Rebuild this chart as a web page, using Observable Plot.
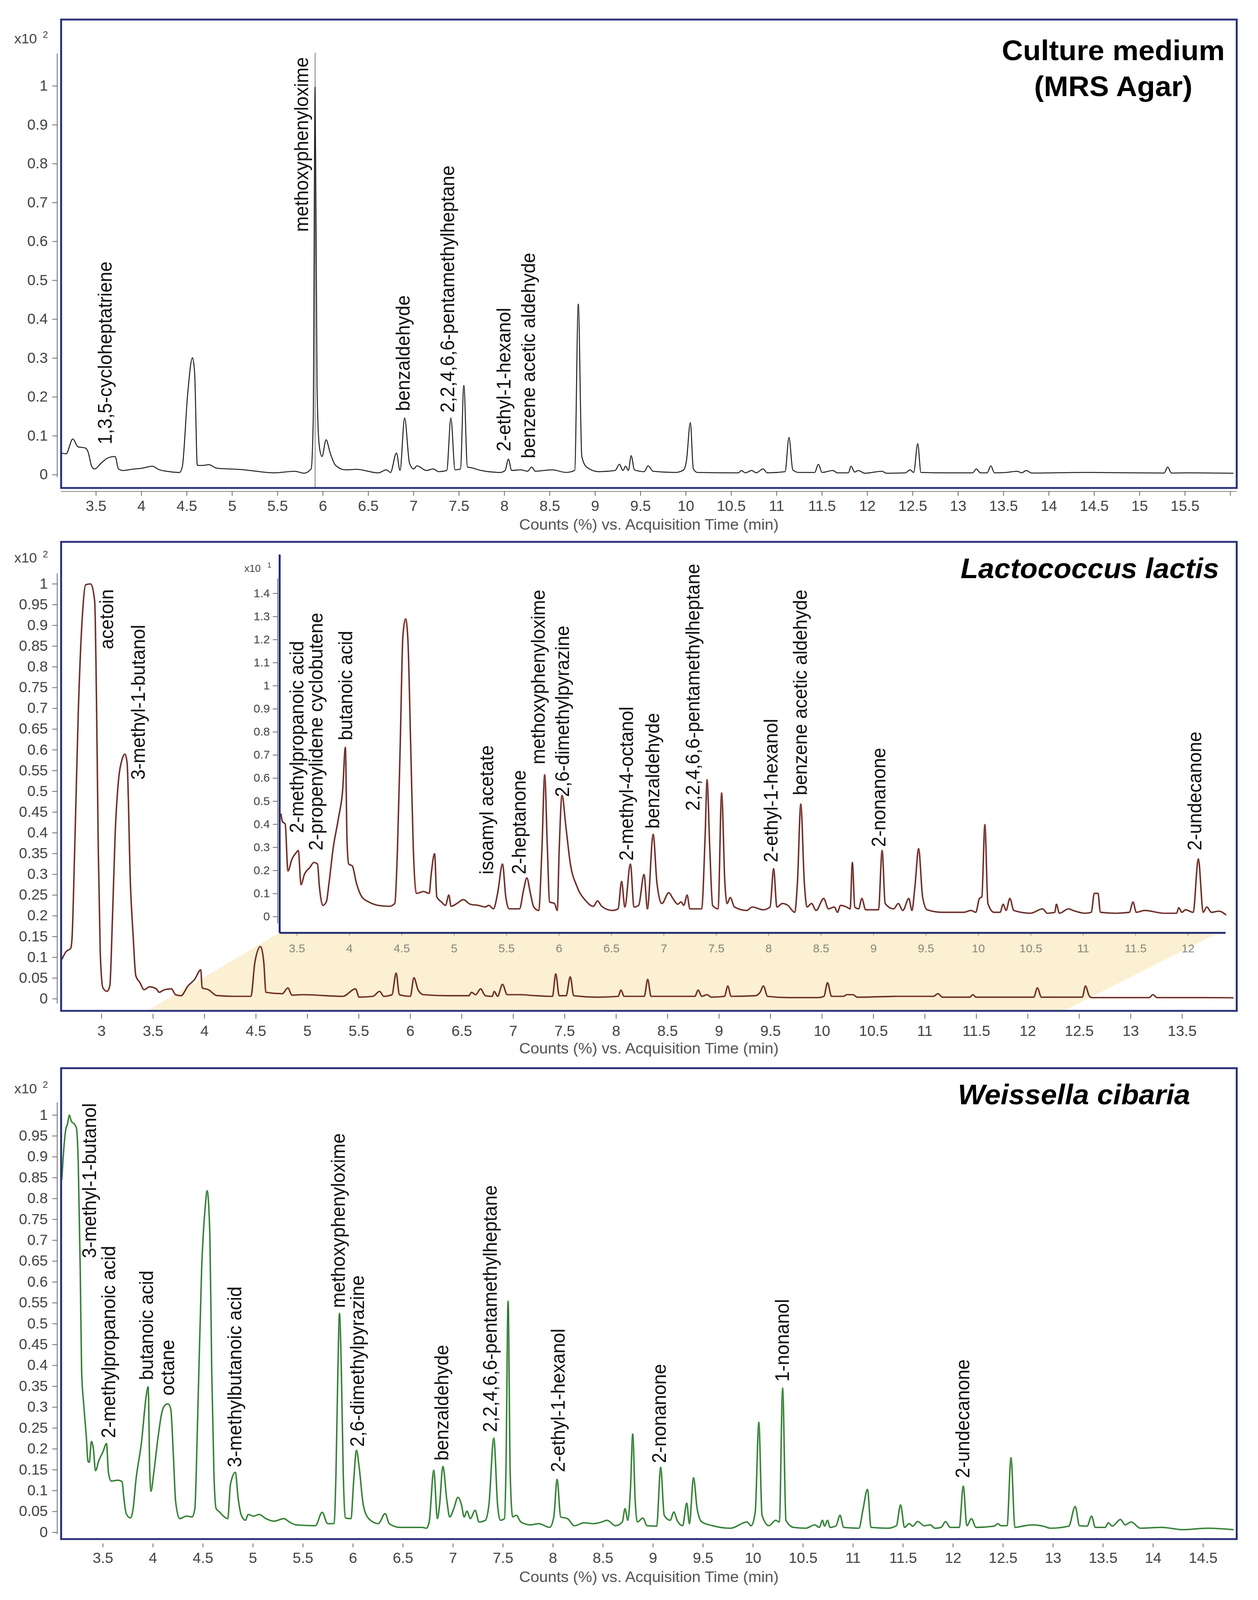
<!DOCTYPE html>
<html><head><meta charset="utf-8">
<script src="https://cdn.jsdelivr.net/npm/d3@7"></script>
<script src="https://cdn.jsdelivr.net/npm/@observablehq/plot@0.6"></script>
<style>
html,body{margin:0;padding:0;background:#fff;overflow:hidden;}
#page{position:relative;width:3221px;height:4215px;overflow:hidden;background:#fff;transform-origin:0 0;}
#page svg{position:absolute;left:0;}
</style></head><body><div id="page"></div>
<script>
// ---------------- DATA ----------------
const xTitle = "Counts (%) vs. Acquisition Time (min)";

// Panel 1: Culture medium (MRS Agar)  [time (min), counts x10^2]
const mrsTrace = [[3.115,0.056],[3.17,0.054],[3.244,0.092],[3.30,0.072],[3.38,0.069],[3.41,0.06],[3.455,0.02],[3.485,0.015],[3.56,0.031],[3.636,0.044],[3.71,0.047],[3.747,0.015],[3.80,0.011],[3.89,0.014],[4.01,0.017],[4.12,0.022],[4.19,0.0135],[4.31,0.008],[4.42,0.006],[4.45,0.02],[4.51,0.209],[4.562,0.301],[4.586,0.263],[4.616,0.024],[4.677,0.024],[4.743,0.026],[4.83,0.017],[5.10,0.0135],[5.46,0.005],[5.69,0.009],[5.79,0.004],[5.87,0.015],[5.893,0.137],[5.914,0.997],[5.935,0.227],[5.96,0.074],[5.99,0.047],[6.035,0.09],[6.08,0.056],[6.14,0.024],[6.25,0.0126],[6.37,0.014],[6.61,0.005],[6.70,0.0126],[6.745,0.006],[6.81,0.056],[6.85,0.011],[6.90,0.146],[6.955,0.029],[7.0,0.015],[7.037,0.023],[7.14,0.011],[7.215,0.015],[7.275,0.008],[7.365,0.011],[7.41,0.146],[7.456,0.0126],[7.516,0.015],[7.553,0.23],[7.592,0.02],[7.637,0.018],[7.743,0.011],[7.954,0.006],[8.008,0.011],[8.044,0.04],[8.08,0.011],[8.18,0.0126],[8.256,0.009],[8.30,0.02],[8.34,0.009],[8.437,0.011],[8.528,0.0126],[8.68,0.006],[8.775,0.011],[8.814,0.439],[8.853,0.047],[8.905,0.02],[9.04,0.008],[9.22,0.011],[9.267,0.027],[9.306,0.011],[9.336,0.022],[9.366,0.011],[9.397,0.049],[9.433,0.0126],[9.54,0.008],[9.584,0.023],[9.638,0.009],[9.886,0.006],[9.976,0.0126],[10.006,0.036],[10.049,0.134],[10.082,0.015],[10.127,0.006],[10.58,0.005],[10.61,0.011],[10.655,0.005],[10.725,0.011],[10.776,0.005],[10.85,0.015],[10.897,0.005],[11.093,0.008],[11.136,0.096],[11.178,0.0126],[11.244,0.006],[11.42,0.006],[11.46,0.027],[11.50,0.006],[11.62,0.011],[11.67,0.005],[11.79,0.005],[11.82,0.022],[11.86,0.007],[11.90,0.011],[11.97,0.004],[12.16,0.009],[12.21,0.004],[12.42,0.005],[12.47,0.0126],[12.51,0.006],[12.555,0.08],[12.59,0.006],[12.86,0.005],[13.16,0.005],[13.20,0.015],[13.245,0.005],[13.32,0.005],[13.36,0.023],[13.40,0.005],[13.53,0.006],[13.65,0.009],[13.70,0.005],[13.75,0.011],[13.81,0.0045],[14.37,0.006],[15.27,0.0045],[15.31,0.02],[15.35,0.0045],[15.51,0.005],[16.03,0.004]];
const mrsMarker = [5.914];
const mrsLabels = [["1,3,5-cycloheptatriene",3.605,0.078],["methoxyphenyloxime",5.77,0.625],["benzaldehyde",6.887,0.164],["2,2,4,6,6-pentamethylheptane",7.38,0.16],["2-ethyl-1-hexanol",8.0,0.06],["benzene acetic aldehyde",8.27,0.042]];
const mrsXTicks = [3.5,4,4.5,5,5.5,6,6.5,7,7.5,8,8.5,9,9.5,10,10.5,11,11.5,12,12.5,13,13.5,14,14.5,15,15.5,16];
const mrsYTicks = [0,0.1,0.2,0.3,0.4,0.5,0.6,0.7,0.8,0.9,1];

// Panel 2: Lactococcus lactis (main, x10^2)
const lactisMain = [[2.614,0.095],[2.654,0.1135],[2.70,0.122],[2.712,0.1425],[2.739,0.362],[2.774,0.693],[2.814,0.925],[2.846,0.998],[2.894,1.0],[2.933,0.959],[2.952,0.693],[2.968,0.362],[2.987,0.1135],[3.013,0.0265],[3.053,0.018],[3.08,0.031],[3.106,0.196],[3.133,0.403],[3.165,0.528],[3.20,0.5775],[3.226,0.59],[3.248,0.569],[3.28,0.279],[3.306,0.155],[3.333,0.0555],[3.373,0.039],[3.413,0.022],[3.466,0.029],[3.532,0.024],[3.559,0.0157],[3.612,0.022],[3.679,0.024],[3.719,0.01],[3.772,0.0075],[3.839,0.031],[3.905,0.047],[3.964,0.07],[3.977,0.0265],[4.038,0.022],[4.118,0.008],[4.278,0.006],[4.451,0.006],[4.49,0.0886],[4.544,0.126],[4.576,0.0886],[4.597,0.0157],[4.757,0.0124],[4.81,0.0265],[4.85,0.009],[4.957,0.01],[5.343,0.006],[5.468,0.024],[5.503,0.004],[5.636,0.006],[5.702,0.018],[5.742,0.006],[5.822,0.01],[5.862,0.062],[5.894,0.01],[6.0,0.006],[6.035,0.051],[6.075,0.022],[6.128,0.01],[6.369,0.0075],[6.569,0.0075],[6.595,0.0157],[6.635,0.01],[6.683,0.024],[6.729,0.0075],[6.795,0.006],[6.816,0.018],[6.848,0.006],[6.896,0.035],[6.941,0.01],[7.061,0.01],[7.221,0.0075],[7.381,0.006],[7.413,0.06],[7.447,0.0075],[7.514,0.0075],[7.554,0.053],[7.588,0.0075],[7.833,0.004],[8.02,0.006],[8.046,0.021],[8.078,0.006],[8.273,0.006],[8.307,0.047],[8.339,0.006],[8.765,0.006],[8.797,0.021],[8.832,0.006],[8.885,0.01],[8.925,0.004],[9.053,0.006],[9.085,0.031],[9.117,0.006],[9.351,0.0075],[9.399,0.0157],[9.431,0.031],[9.471,0.006],[9.67,0.003],[9.963,0.003],[10.019,0.006],[10.054,0.039],[10.093,0.006],[10.21,0.006],[10.24,0.01],[10.30,0.01],[10.344,0.004],[10.728,0.006],[11.082,0.006],[11.127,0.0124],[11.171,0.004],[11.437,0.004],[11.467,0.01],[11.496,0.004],[12.058,0.004],[12.093,0.0265],[12.132,0.004],[12.53,0.004],[12.56,0.031],[12.596,0.0075],[12.62,0.003],[13.18,0.003],[13.216,0.01],[13.255,0.003],[13.683,0.003],[13.993,0.0025]];
const lactisLabels = [["acetoin",3.053,0.8426],["3-methyl-1-butanol",3.36,0.528]];
const lactisXTicks = [3,3.5,4,4.5,5,5.5,6,6.5,7,7.5,8,8.5,9,9.5,10,10.5,11,11.5,12,12.5,13,13.5];
const lactisYTicks = [0,0.05,0.1,0.15,0.2,0.25,0.3,0.35,0.4,0.45,0.5,0.55,0.6,0.65,0.7,0.75,0.8,0.85,0.9,0.95,1];
// zoomed band: [time, lower, upper]
const zoomBand = [[3.45,-0.029,-0.029],[4.73,-0.029,0.159],[12.353,-0.029,0.159],[13.859,0.159,0.159]];

// Panel 2 inset (x10^1)
const lactisInset = [[3.348,0.444],[3.362,0.411],[3.388,0.402],[3.414,0.198],[3.453,0.25],[3.492,0.277],[3.513,0.287],[3.539,0.1385],[3.571,0.183],[3.623,0.213],[3.662,0.235],[3.696,0.228],[3.714,0.131],[3.748,0.049],[3.78,0.064],[3.806,0.146],[3.845,0.295],[3.897,0.429],[3.936,0.548],[3.962,0.734],[3.978,0.325],[3.994,0.228],[4.028,0.22],[4.067,0.146],[4.119,0.086],[4.184,0.064],[4.276,0.049],[4.38,0.045],[4.433,0.057],[4.459,0.295],[4.485,0.742],[4.511,1.218],[4.537,1.29],[4.558,1.203],[4.585,0.742],[4.61,0.295],[4.64,0.101],[4.708,0.109],[4.761,0.101],[4.782,0.19],[4.813,0.273],[4.834,0.086],[4.878,0.064],[4.917,0.049],[4.949,0.094],[4.97,0.045],[5.035,0.06],[5.087,0.074],[5.153,0.054],[5.231,0.049],[5.296,0.042],[5.33,0.049],[5.375,0.034],[5.414,0.101],[5.461,0.228],[5.492,0.086],[5.524,0.034],[5.623,0.034],[5.662,0.116],[5.693,0.168],[5.727,0.101],[5.759,0.042],[5.806,0.027],[5.837,0.295],[5.863,0.615],[5.889,0.295],[5.91,0.064],[5.957,0.057],[5.983,0.027],[6.002,0.295],[6.028,0.526],[6.067,0.384],[6.106,0.235],[6.171,0.131],[6.25,0.0715],[6.328,0.045],[6.367,0.0685],[6.407,0.045],[6.511,0.027],[6.563,0.034],[6.597,0.153],[6.628,0.042],[6.681,0.228],[6.715,0.042],[6.759,0.049],[6.811,0.183],[6.843,0.034],[6.898,0.357],[6.934,0.146],[6.981,0.057],[7.047,0.104],[7.086,0.079],[7.133,0.054],[7.164,0.064],[7.19,0.049],[7.222,0.094],[7.248,0.034],[7.36,0.034],[7.394,0.354],[7.412,0.593],[7.438,0.295],[7.465,0.049],[7.517,0.034],[7.551,0.536],[7.582,0.146],[7.603,0.057],[7.634,0.083],[7.673,0.042],[7.791,0.027],[7.843,0.042],[7.948,0.03],[8.013,0.042],[8.047,0.208],[8.078,0.042],[8.131,0.057],[8.183,0.049],[8.248,0.019],[8.274,0.146],[8.306,0.488],[8.34,0.146],[8.366,0.042],[8.409,0.057],[8.452,0.027],[8.525,0.079],[8.569,0.034],[8.627,0.042],[8.656,0.019],[8.685,0.049],[8.743,0.042],[8.777,0.034],[8.798,0.235],[8.821,0.042],[8.859,0.034],[8.888,0.079],[8.925,0.03],[9.047,0.03],[9.082,0.287],[9.111,0.057],[9.192,0.034],[9.236,0.057],[9.279,0.027],[9.337,0.079],[9.366,0.027],[9.395,0.131],[9.43,0.295],[9.468,0.086],[9.511,0.03],[9.656,0.019],[9.859,0.019],[9.932,0.027],[9.975,0.019],[10.01,0.079],[10.033,0.086],[10.062,0.399],[10.091,0.057],[10.149,0.019],[10.207,0.019],[10.236,0.054],[10.265,0.027],[10.3,0.079],[10.338,0.027],[10.497,0.015],[10.613,0.034],[10.657,0.015],[10.729,0.019],[10.744,0.054],[10.773,0.015],[10.86,0.034],[10.903,0.027],[11.019,0.015],[11.077,0.019],[11.106,0.101],[11.141,0.101],[11.164,0.019],[11.309,0.015],[11.44,0.019],[11.475,0.064],[11.506,0.019],[11.585,0.027],[11.773,0.015],[11.89,0.015],[11.912,0.039],[11.941,0.019],[11.976,0.03],[12.049,0.019],[12.098,0.25],[12.145,0.019],[12.179,0.042],[12.223,0.019],[12.295,0.024],[12.359,0.009]];
const insetLabels = [["2-methylpropanoic acid",3.505,0.362],["2-propenylidene cyclobutene",3.688,0.287],["butanoic acid",3.968,0.764],["isoamyl acetate",5.315,0.183],["2-heptanone",5.623,0.183],["methoxyphenyloxime",5.806,0.66],["2,6-dimethylpyrazine",6.036,0.518],["2-methyl-4-octanol",6.647,0.243],["benzaldehyde",6.898,0.381],["2,2,4,6,6-pentamethylheptane",7.282,0.459],["2-ethyl-1-hexanol",8.026,0.235],["benzene acetic aldehyde",8.306,0.526],["2-nonanone",9.053,0.302],["2-undecanone",12.07,0.287]];
const insetXTicks = [3.5,4,4.5,5,5.5,6,6.5,7,7.5,8,8.5,9,9.5,10,10.5,11,11.5,12];
const insetYTicks = [0,0.1,0.2,0.3,0.4,0.5,0.6,0.7,0.8,0.9,1,1.1,1.2,1.3,1.4];

// Panel 3: Weissella cibaria (x10^2)
const weissTrace = [[3.089,0.846],[3.109,0.92],[3.131,0.969],[3.144,0.977],[3.164,1.0],[3.185,0.985],[3.213,0.979],[3.235,0.969],[3.254,0.878],[3.273,0.632],[3.287,0.386],[3.309,0.304],[3.336,0.222],[3.35,0.171],[3.363,0.168],[3.385,0.218],[3.404,0.201],[3.426,0.148],[3.459,0.172],[3.5,0.193],[3.536,0.213],[3.555,0.144],[3.582,0.123],[3.651,0.125],[3.692,0.1215],[3.706,0.09],[3.733,0.045],[3.774,0.0345],[3.802,0.057],[3.829,0.123],[3.884,0.213],[3.939,0.337],[3.952,0.349],[3.969,0.14],[3.98,0.0985],[4.007,0.14],[4.048,0.222],[4.089,0.287],[4.117,0.304],[4.15,0.308],[4.178,0.296],[4.205,0.181],[4.227,0.074],[4.268,0.033],[4.336,0.039],[4.391,0.037],[4.419,0.057],[4.446,0.263],[4.487,0.632],[4.523,0.78],[4.542,0.819],[4.569,0.714],[4.588,0.386],[4.61,0.14],[4.632,0.057],[4.665,0.049],[4.715,0.037],[4.748,0.033],[4.775,0.115],[4.824,0.144],[4.852,0.082],[4.884,0.041],[4.925,0.029],[4.952,0.043],[5.007,0.039],[5.062,0.043],[5.13,0.033],[5.212,0.027],[5.309,0.033],[5.364,0.025],[5.432,0.018],[5.624,0.016],[5.692,0.048],[5.747,0.021],[5.81,0.021],[5.83,0.14],[5.849,0.386],[5.865,0.525],[5.884,0.386],[5.903,0.14],[5.925,0.0345],[5.98,0.033],[6.007,0.123],[6.035,0.197],[6.062,0.156],[6.103,0.066],[6.158,0.033],[6.253,0.021],[6.322,0.045],[6.363,0.021],[6.473,0.012],[6.692,0.012],[6.734,0.01],[6.762,0.025],[6.808,0.149],[6.844,0.033],[6.866,0.066],[6.899,0.158],[6.94,0.074],[6.967,0.037],[7.008,0.057],[7.049,0.084],[7.085,0.066],[7.112,0.037],[7.14,0.051],[7.173,0.033],[7.222,0.053],[7.26,0.025],[7.323,0.029],[7.359,0.066],[7.408,0.226],[7.446,0.066],[7.474,0.029],[7.515,0.033],[7.529,0.14],[7.551,0.554],[7.572,0.14],[7.597,0.037],[7.633,0.041],[7.679,0.025],[7.775,0.018],[7.857,0.021],[7.967,0.012],[8.008,0.037],[8.041,0.127],[8.077,0.037],[8.145,0.033],[8.214,0.016],[8.31,0.023],[8.405,0.021],[8.488,0.025],[8.542,0.029],[8.625,0.016],[8.693,0.025],[8.72,0.057],[8.748,0.029],[8.775,0.107],[8.797,0.236],[8.822,0.074],[8.844,0.025],[8.899,0.0345],[8.94,0.016],[9.036,0.015],[9.077,0.156],[9.112,0.041],[9.172,0.029],[9.208,0.049],[9.241,0.029],[9.296,0.016],[9.337,0.07],[9.364,0.021],[9.405,0.131],[9.441,0.057],[9.488,0.025],[9.597,0.016],[9.775,0.01],[9.94,0.025],[9.981,0.016],[10.022,0.049],[10.058,0.264],[10.09,0.041],[10.159,0.016],[10.227,0.029],[10.263,0.025],[10.296,0.346],[10.329,0.029],[10.405,0.012],[10.526,0.01],[10.618,0.018],[10.663,0.012],[10.694,0.029],[10.715,0.015],[10.745,0.029],[10.77,0.012],[10.83,0.016],[10.87,0.041],[10.906,0.012],[11.059,0.01],[11.098,0.053],[11.144,0.103],[11.18,0.012],[11.347,0.01],[11.433,0.016],[11.475,0.066],[11.515,0.012],[11.56,0.021],[11.597,0.015],[11.646,0.026],[11.712,0.016],[11.773,0.018],[11.819,0.01],[11.88,0.012],[11.925,0.026],[11.971,0.012],[12.062,0.012],[12.102,0.111],[12.138,0.016],[12.184,0.033],[12.229,0.012],[12.412,0.015],[12.448,0.021],[12.479,0.016],[12.54,0.016],[12.579,0.179],[12.619,0.012],[12.716,0.016],[12.792,0.018],[12.899,0.015],[12.975,0.01],[13.157,0.015],[13.221,0.062],[13.264,0.016],[13.34,0.015],[13.385,0.039],[13.422,0.012],[13.522,0.012],[13.552,0.023],[13.592,0.015],[13.674,0.031],[13.72,0.018],[13.781,0.025],[13.872,0.01],[14.085,0.012],[14.298,0.0066],[14.541,0.01],[14.8,0.0066]];
const weissLabels = [["3-methyl-1-butanol",3.372,0.657],["2-methylpropanoic acid",3.56,0.226],["butanoic acid",3.939,0.365],["octane",4.15,0.328],["3-methylbutanoic acid",4.824,0.156],["methoxyphenyloxime",5.859,0.538],["2,6-dimethylpyrazine",6.048,0.205],["benzaldehyde",6.893,0.172],["2,2,4,6,6-pentamethylheptane",7.378,0.24],["2-ethyl-1-hexanol",8.055,0.144],["2-nonanone",9.068,0.166],["1-nonanol",10.296,0.361],["2-undecanone",12.1,0.13]];
const weissXTicks = [3.5,4,4.5,5,5.5,6,6.5,7,7.5,8,8.5,9,9.5,10,10.5,11,11.5,12,12.5,13,13.5,14,14.5];
const weissYTicks = lactisYTicks;

// ---------------- DRAWING ----------------
const FONT = "Liberation Sans, Arial, Helvetica, sans-serif";
const NAVY = "#2c337c";
const W = 3221, H = 4215;
const page = document.getElementById("page");
// fit the whole 3221x4215 figure into the visible viewport height
const fitY = Math.min(1, (window.innerHeight || H) / H);
page.style.transform = `scale(1, ${fitY})`;

const T = d => d[0], V = d => d[1];
const fmt = d => String(+d.toFixed(2));

function labelMark(labels, size = 49) {
  return Plot.text(labels, {x: d => d[1], y: d => d[2], text: d => d[0], rotate: -90,
    textAnchor: "start", lineAnchor: "middle", fontSize: size, fill: "#111"});
}

function panel(o) {
  const marks = [
    ...(o.under || []),
    ...o.traces,
    labelMark(o.labels),
    Plot.ruleX([o.x[0]], {y1: () => o.yLine[0], y2: () => o.yLine[1], dx: -10, stroke: "#666", strokeWidth: 2}),
    Plot.axisY({ticks: o.yTicks, tickFormat: fmt, tickSize: 12, tickPadding: 12, dx: -10, fontSize: 38, fill: "#444", stroke: "#666", strokeWidth: 2, label: null}),
    Plot.axisX({ticks: o.xTicks, tickFormat: o.xFmt || fmt, tickSize: o.tickSize, tickPadding: o.tickPad, dy: o.axisDy, fontSize: 38, fill: "#444", stroke: "#666", strokeWidth: 2, label: null}),
    Plot.text(["x10"], {frameAnchor: "top-left", text: d => d, textAnchor: "end", lineAnchor: "middle", dx: -62, dy: o.x10dy, fontSize: 36, fill: "#444"}),
    Plot.text(["2"], {frameAnchor: "top-left", text: d => d, textAnchor: "start", lineAnchor: "middle", dx: -47, dy: o.x10dy - 10, fontSize: 24, fill: "#444"}),
    Plot.text([o.title], {frameAnchor: "top-right", text: d => d, fill: "#000", ...o.titleStyle}),
    Plot.text([xTitle], {frameAnchor: "bottom", text: d => d, dy: o.titleDy, lineAnchor: "middle", fontSize: 40, fill: "#555"}),
    ...(o.over || []),
    Plot.frame({stroke: NAVY, strokeWidth: 5})
  ];
  const svg = Plot.plot({
    width: W, height: o.height,
    marginTop: o.mt, marginBottom: o.mb, marginLeft: 156, marginRight: 55,
    x: {domain: o.x}, y: {domain: o.y},
    style: {background: "transparent", fontFamily: FONT, overflow: "visible"},
    marks
  });
  svg.style.top = o.top + "px";
  page.append(svg);
}

// Panel 1
panel({
  top: 0, height: 1420, mt: 51, mb: 135,
  x: [3.115, 16.07], y: [-0.034, 1.171],
  xTicks: mrsXTicks, yTicks: mrsYTicks, xFmt: d => d === 16 ? "" : fmt(d),
  yLine: [-0.007, 1.083], tickSize: 12, tickPad: 12, axisDy: 9, titleDy: 97, x10dy: 51,
  under: [
    Plot.ruleY([-0.034], {dy: 9, stroke: "#888", strokeWidth: 2}),
    Plot.ruleX(mrsMarker, {y1: () => -0.034, y2: () => 1.085, stroke: "#777", strokeWidth: 2})
  ],
  traces: [Plot.line(mrsTrace, {x: T, y: V, curve: "monotone-x", stroke: "#222", strokeWidth: 2.6})],
  labels: mrsLabels,
  title: "Culture medium\n(MRS Agar)",
  titleStyle: {dx: -316, dy: 39, textAnchor: "middle", lineAnchor: "top", lineHeight: 1.27, fontSize: 75, fontWeight: "bold"}
});

// Panel 2 (main)
panel({
  top: 1420, height: 1390, mt: 7, mb: 147.5,
  x: [2.607, 14.03], y: [-0.029, 1.1014],
  xTicks: lactisXTicks, yTicks: lactisYTicks,
  yLine: [-0.012, 1.025], tickSize: 13, tickPad: 18, axisDy: 8, titleDy: 100, x10dy: 43,
  under: [Plot.areaY(zoomBand, {x: d => d[0], y1: d => d[1], y2: d => d[2], fill: "#fcf0d3", curve: "linear"})],
  traces: [
    Plot.line(lactisMain, {x: T, y: V, curve: "monotone-x", stroke: "#c0392b", strokeOpacity: 0.7, strokeWidth: 4.5}),
    Plot.line(lactisMain, {x: T, y: V, curve: "monotone-x", stroke: "#2a2020", strokeWidth: 2})
  ],
  labels: lactisLabels,
  title: "Lactococcus lactis",
  titleStyle: {dx: -45, dy: 43, textAnchor: "end", lineAnchor: "top", fontSize: 74, fontWeight: "bold", fontStyle: "italic"}
});

// Panel 2 inset
{
  const INAVY = "#1f2870";
  const svg = Plot.plot({
    width: W, height: 1390,
    marginTop: 40.8, marginBottom: 353, marginLeft: 715.5, marginRight: 83,
    x: {domain: [3.335, 12.36]}, y: {domain: [-0.070, 1.568]},
    style: {background: "transparent", fontFamily: FONT, overflow: "visible"},
    marks: [
      Plot.line(lactisInset, {x: T, y: V, curve: "monotone-x", stroke: "#c0392b", strokeOpacity: 0.7, strokeWidth: 4.5}),
      Plot.line(lactisInset, {x: T, y: V, curve: "monotone-x", stroke: "#2a2020", strokeWidth: 2}),
      labelMark(insetLabels),
      Plot.ruleX([3.335], {y1: () => -0.03, y2: () => 1.464, dx: -5, stroke: "#666", strokeWidth: 2}),
      Plot.axisY({ticks: insetYTicks, tickFormat: fmt, tickSize: 12, tickPadding: 8, dx: -5, fontSize: 30, fill: "#444", stroke: "#666", strokeWidth: 2, label: null}),
      Plot.axisX({ticks: insetXTicks, tickFormat: fmt, tickSize: 8, tickPadding: 22, fontSize: 30, fill: "#8a8878", stroke: "#999", strokeWidth: 2, label: null}),
      Plot.text(["x10"], {frameAnchor: "top-left", text: d => d, textAnchor: "end", lineAnchor: "middle", dx: -48.5, dy: 37, fontSize: 26, fill: "#444"}),
      Plot.text(["1"], {frameAnchor: "top-left", text: d => d, textAnchor: "start", lineAnchor: "middle", dx: -31.5, dy: 28, fontSize: 18, fill: "#444"}),
      Plot.ruleX([3.335], {stroke: INAVY, strokeWidth: 5}),
      Plot.ruleY([-0.070], {stroke: INAVY, strokeWidth: 5})
    ]
  });
  svg.style.top = "1420px";
  page.append(svg);
}

// Panel 3
panel({
  top: 2810, height: 1405, mt: 3.5, mb: 161,
  x: [3.082, 14.836], y: [-0.016, 1.1125],
  xTicks: weissXTicks, yTicks: weissYTicks,
  yLine: [-0.005, 1.03], tickSize: 10, tickPad: 14, axisDy: 12, titleDy: 100, x10dy: 54.5,
  traces: [
    Plot.line(weissTrace, {x: T, y: V, curve: "monotone-x", stroke: "#5fa653", strokeWidth: 4.5, strokeOpacity: 0.75}),
    Plot.line(weissTrace, {x: T, y: V, curve: "monotone-x", stroke: "#1f6e2a", strokeWidth: 2.2})
  ],
  labels: weissLabels,
  title: "Weissella cibaria",
  titleStyle: {dx: -119, dy: 42.5, textAnchor: "end", lineAnchor: "top", fontSize: 74, fontWeight: "bold", fontStyle: "italic"}
});
</script></body></html>
